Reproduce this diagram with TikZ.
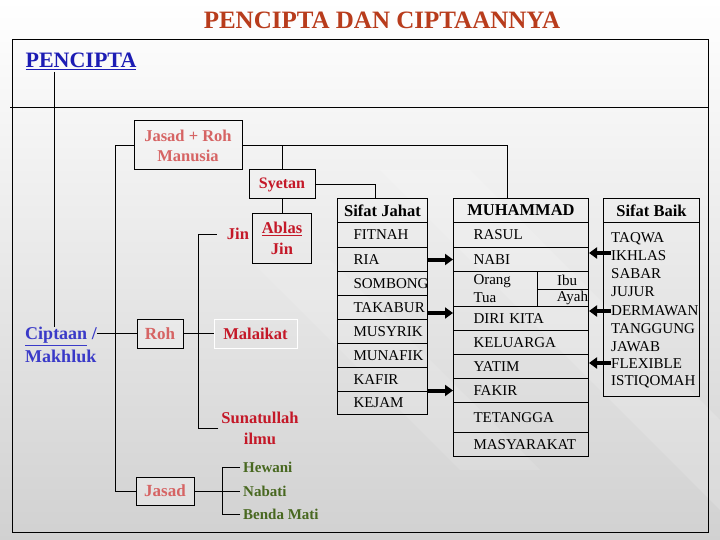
\documentclass[tikz,border=0pt]{standalone}
\usepackage{fontspec}
\setmainfont{Liberation Serif}
\usetikzlibrary{arrows.meta,calc}
\definecolor{titlec}{RGB}{184,60,28}
\definecolor{bluec}{RGB}{28,28,180}
\definecolor{blueb}{RGB}{58,58,200}
\definecolor{pinkc}{RGB}{214,100,100}
\definecolor{redc}{RGB}{196,24,40}
\definecolor{greenc}{RGB}{72,104,32}
\begin{document}
\begin{tikzpicture}[x=1pt,y=-1pt,
  every node/.style={inner sep=0pt},
  ln/.style={line width=1pt, black},
  box/.style={draw, line width=1pt},
  headcell/.style={draw, line width=1pt, anchor=north west, minimum height=24pt,
     font=\fontsize{16.5}{20}\selectfont\bfseries},
  sjrow/.style={draw, line width=1pt, anchor=north west, text width=58pt, inner xsep=16pt,
     inner ysep=0pt, minimum height=24pt, align=left, font=\fontsize{15}{18}\selectfont},
  murow/.style={draw, line width=1pt, anchor=north west, text width=95pt, inner xsep=20pt,
     inner ysep=0pt, minimum height=24pt, align=left, font=\fontsize{15}{18}\selectfont},
  baik/.style={anchor=west, font=\fontsize{15}{18}\selectfont},
  big/.style={line width=4pt, -{Triangle[length=8pt,width=11pt]}},
  redlab/.style={text=redc, font=\fontsize{16.5}{21}\selectfont\bfseries, align=center},
  greenlab/.style={text=greenc, anchor=west, inner xsep=3pt, font=\fontsize{15}{18}\selectfont\bfseries}
]
\useasboundingbox (0,0) rectangle (720,540);
\shade[top color=white, bottom color=black!18] (0,0) rectangle (720,540);
\fill[white, opacity=0.15] (380,170) -- (470,170) -- (720,420) -- (720,510) -- cycle;
\fill[white, opacity=0.12] (250,260) -- (330,260) -- (540,470) -- (460,470) -- cycle;

% frame
\draw[ln] (12,40) rectangle (708,532);
\draw[ln] (10,108) -- (708,108);

% titles
\node[font=\fontsize{25}{30}\selectfont\bfseries, text=titlec] (title) at (382,20) {PENCIPTA DAN CIPTAANNYA};
\node[font=\fontsize{22}{26}\selectfont\bfseries, text=bluec] (pencipta) at (81,61) {\underline{PENCIPTA}};
\node[font=\fontsize{18}{23}\selectfont\bfseries, text=blueb, align=left] (ciptaan) at (61,345) {\underline{Ciptaan} /\\Makhluk};

% boxes
\node[box, minimum width=108pt, minimum height=49pt, align=center, text=pinkc,
  font=\fontsize{16.5}{20}\selectfont\bfseries] (jr) at (188,145.5) {Jasad + Roh\\Manusia};
\node[box, minimum width=66pt, minimum height=29pt, text=redc,
  font=\fontsize{16}{20}\selectfont\bfseries] (syetan) at (282,184.5) {Syetan};
\node[box, minimum width=59pt, minimum height=49pt, align=center, text=redc,
  font=\fontsize{16.5}{21}\selectfont\bfseries] (ablas) at (282,238.5) {\underline{Ablas}\\Jin};
\node[box, fill=black!6, fill opacity=0.5, text opacity=1, minimum width=46pt, minimum height=29pt, text=pinkc,
  font=\fontsize{17}{20}\selectfont\bfseries] (roh) at (160,333.5) {Roh};
\node[draw=white, line width=1pt, minimum width=83pt, minimum height=29pt, text=redc,
  font=\fontsize{16.5}{20}\selectfont\bfseries] (malaikat) at (255.5,333.5) {Malaikat};
\node[box, fill=black!6, fill opacity=0.5, text opacity=1, minimum width=58pt, minimum height=28pt, text=pinkc,
  font=\fontsize{17}{20}\selectfont\bfseries] (jasad) at (165,491) {Jasad};

\node[redlab] (jin) at (238,234) {Jin};
\node[redlab, inner xsep=3pt] (sunat) at (260,428) {Sunatullah\\ilmu};
\node[greenlab] (hewani) at (240,467) {Hewani};
\node[greenlab] (nabati) at (240,491) {Nabati};
\node[greenlab] (benda) at (240,514) {Benda Mati};

% Sifat Jahat table
\node[headcell, minimum width=90pt] (sjh) at (337,198) {Sifat Jahat};
\node[sjrow, minimum height=25pt] (fitnah) at (337,222) {FITNAH};
\node[sjrow] (ria) at (337,247) {RIA};
\node[sjrow] (sombong) at (337,271) {SOMBONG};
\node[sjrow] (takabur) at (337,295) {TAKABUR};
\node[sjrow] (musyrik) at (337,319) {MUSYRIK};
\node[sjrow] (munafik) at (337,343) {MUNAFIK};
\node[sjrow] (kafir) at (337,367) {KAFIR};
\node[sjrow, minimum height=23pt] (kejam) at (337,391) {KEJAM};

% MUHAMMAD table
\node[headcell, minimum width=135pt] (muhh) at (453,198) {MUHAMMAD};
\node[murow, minimum height=25pt] (rasul) at (453,222) {RASUL};
\node[murow] (nabi) at (453,247) {NABI};
\node[murow, minimum height=35pt] (orang) at (453,271) {Orang\\Tua};
\node[draw, line width=1pt, anchor=north west, minimum width=51pt, minimum height=17.5pt,
  font=\fontsize{15}{18}\selectfont] (ibu) at (537,271) {\hspace*{8pt}Ibu};
\node[draw, line width=1pt, anchor=north west, text width=50pt, inner xsep=0.5pt, minimum height=17.5pt,
  align=right, font=\fontsize{15}{18}\selectfont] (ayah) at (537,288.5) {Ayah};
\node[murow] (diri) at (453,306) {DIRI KITA};
\node[murow] (keluarga) at (453,330) {KELUARGA};
\node[murow] (yatim) at (453,354) {YATIM};
\node[murow] (fakir) at (453,378) {FAKIR};
\node[murow, minimum height=30pt] (tetangga) at (453,402) {TETANGGA};
\node[murow] (masy) at (453,432) {MASYARAKAT};

% Sifat Baik
\node[headcell, minimum width=96pt] (baikh) at (603,198) {Sifat Baik};
\node[draw, line width=1pt, anchor=north west, minimum width=96pt, minimum height=174pt] (baikb) at (603,222) {};
\node[baik] (taqwa) at (611,239) {TAQWA};
\node[baik] (ikhlas) at (611,256) {IKHLAS};
\node[baik] (sabar) at (611,274) {SABAR};
\node[baik] (jujur) at (611,292) {JUJUR};
\node[baik] (dermawan) at (611,311) {DERMAWAN};
\node[baik] (tanggung) at (611,329) {TANGGUNG};
\node[baik] (jawab) at (611,347) {JAWAB};
\node[baik] (flexible) at (611,364) {FLEXIBLE};
\node[baik] (istiqomah) at (611,382) {ISTIQOMAH};

% connectors
\coordinate (pc) at (54,72);
\draw[ln] (pc) -- (pc |- ciptaan.north);
\draw[ln] (roh.west -| ciptaan.east) -- (roh.west);
\coordinate (busA) at (115,300);
\draw[ln] (jr.west) -- (jr.west -| busA) -- (busA |- jasad.west) -- (jasad.west);
\draw[ln] (jr.east) -| ([xshift=-13.5pt]muhh.north);
\draw[ln] (syetan.north) -- (syetan.north |- jr.east);
\draw[ln] (syetan.south) -- (ablas.north);
\draw[ln] (syetan.east) -| ([xshift=-7pt]sjh.north);
\draw[ln] (roh.east) -- (malaikat.west);
\coordinate (busB) at (198,333.5);
\draw[ln] ([xshift=-10pt]jin.west) -| (busB);
\draw[ln] (sunat.west) -| (busB);
\coordinate (busC) at (222,491);
\draw[ln] (jasad.east) -- (nabati.west);
\draw[ln] (hewani.west) -| (busC);
\draw[ln] (benda.west) -| (busC);

% arrows
\draw[big] (nabi.west -| ria.east) -- (nabi.west);
\path ($(takabur.east)!.5!(diri.west)$) coordinate (m2);
\draw[big] (m2 -| takabur.east) -- (m2 -| diri.west);
\draw[big] (fakir.west -| kafir.east) -- (fakir.west);
\draw[big] ([yshift=3pt]ikhlas.west) -- ([yshift=3pt]ikhlas.west -| nabi.east);
\draw[big] (dermawan.west) -- (dermawan.west -| nabi.east);
\draw[big] ([yshift=1pt]flexible.west) -- ([yshift=1pt]flexible.west -| nabi.east);
\end{tikzpicture}
\end{document}
